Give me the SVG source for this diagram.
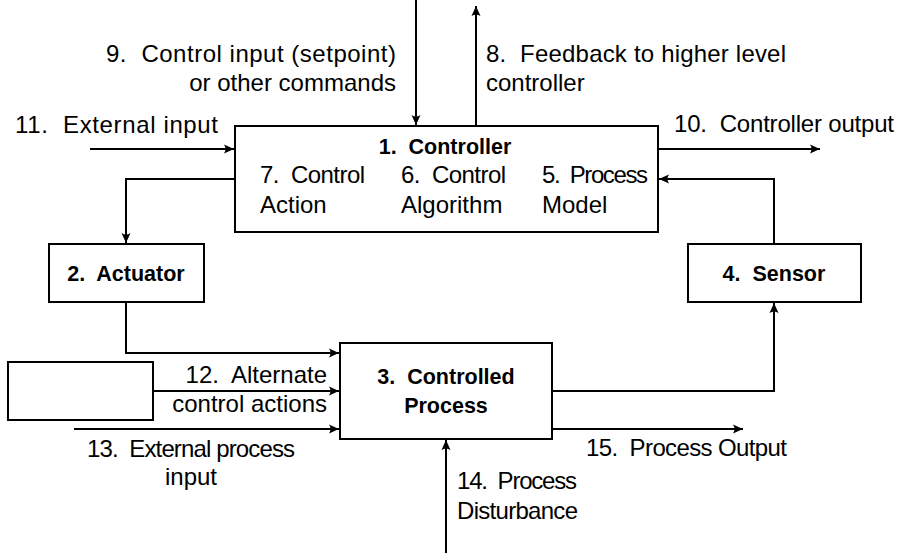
<svg xmlns="http://www.w3.org/2000/svg" width="904" height="553" viewBox="0 0 904 553">
  <style>
    .box { fill: #ffffff; stroke: #000000; stroke-width: 2; }
    .wire { fill: none; stroke: #000000; stroke-width: 2; }
    .lbl { font-family: "Liberation Sans", Arial, sans-serif; font-size: 24px; fill: #000000; white-space: pre; }
    .ttl { font-family: "Liberation Sans", Arial, sans-serif; font-size: 21.5px; font-weight: bold; fill: #000000; white-space: pre; }
    .mid { text-anchor: middle; }
    .end { text-anchor: end; }
  </style>
  <defs>
    <marker id="tip" viewBox="-11 -5 12 10" refX="0" refY="0" markerWidth="12" markerHeight="10" markerUnits="userSpaceOnUse" orient="auto">
      <path d="M0,0 L-10,-4.5 Q-7,0 -10,4.5 Z" fill="#000000"/>
    </marker>
  </defs>

  <rect width="904" height="553" fill="#ffffff"/>

  <!-- connectors -->
  <g id="connectors" class="wire" marker-end="url(#tip)">
    <path d="M416,0 V125"/>
    <path d="M476,126 V6"/>
    <path d="M90,149 H234"/>
    <path d="M658,149 H820"/>
    <path d="M235,179 H126 V243"/>
    <path d="M774,244 V179 H659"/>
    <path d="M126,302 V353 H339"/>
    <path d="M153,391 H339"/>
    <path d="M74,429 H339"/>
    <path d="M552,391 H774 V303"/>
    <path d="M552,429 H743"/>
    <path d="M446,553 V440"/>
  </g>

  <!-- free labels on connectors -->
  <g id="labels">
    <text class="lbl end" x="396" y="62" textLength="290" lengthAdjust="spacing">9.  Control input (setpoint)</text>
    <text class="lbl end" x="396" y="91">or other commands</text>
    <text class="lbl" x="486" y="62" textLength="300" lengthAdjust="spacing">8.  Feedback to higher level</text>
    <text class="lbl" x="486" y="91">controller</text>
    <text class="lbl" x="15" y="133" textLength="203" lengthAdjust="spacing">11.  External input</text>
    <text class="lbl" x="674" y="132" textLength="220" lengthAdjust="spacing">10.  Controller output</text>
    <text class="lbl end" x="327" y="383">12.  Alternate</text>
    <text class="lbl end" x="327" y="412">control actions</text>
    <text class="lbl" x="87" y="457" textLength="208" lengthAdjust="spacing">13.  External process</text>
    <text class="lbl mid" x="191" y="485">input</text>
    <text class="lbl" x="586" y="456" textLength="201" lengthAdjust="spacing">15.  Process Output</text>
    <text class="lbl" x="457" y="489" textLength="120" lengthAdjust="spacing">14.  Process</text>
    <text class="lbl" x="457" y="519" textLength="121" lengthAdjust="spacing">Disturbance</text>
  </g>

  <g id="controller">
    <rect class="box" x="235" y="126" width="423" height="106"/>
    <text class="ttl mid" x="445" y="154">1.  Controller</text>
    <text class="lbl" x="260" y="183" textLength="105" lengthAdjust="spacing">7.  Control</text>
    <text class="lbl" x="260" y="213">Action</text>
    <text class="lbl" x="401" y="183" textLength="105" lengthAdjust="spacing">6.  Control</text>
    <text class="lbl" x="401" y="213">Algorithm</text>
    <text class="lbl" x="542" y="183" textLength="106" lengthAdjust="spacing">5.  Process</text>
    <text class="lbl" x="542" y="213">Model</text>
  </g>

  <g id="actuator">
    <rect class="box" x="49" y="244" width="155" height="58"/>
    <text class="ttl mid" x="126" y="281">2.  Actuator</text>
  </g>

  <g id="sensor">
    <rect class="box" x="688" y="244" width="173" height="58"/>
    <text class="ttl mid" x="774" y="281">4.  Sensor</text>
  </g>

  <g id="controlled-process">
    <rect class="box" x="340" y="343" width="212" height="96"/>
    <text class="ttl mid" x="446" y="384">3.  Controlled</text>
    <text class="ttl mid" x="446" y="413">Process</text>
  </g>

  <g id="alternate-controller">
    <rect class="box" x="8" y="362" width="145" height="58"/>
  </g>
</svg>
